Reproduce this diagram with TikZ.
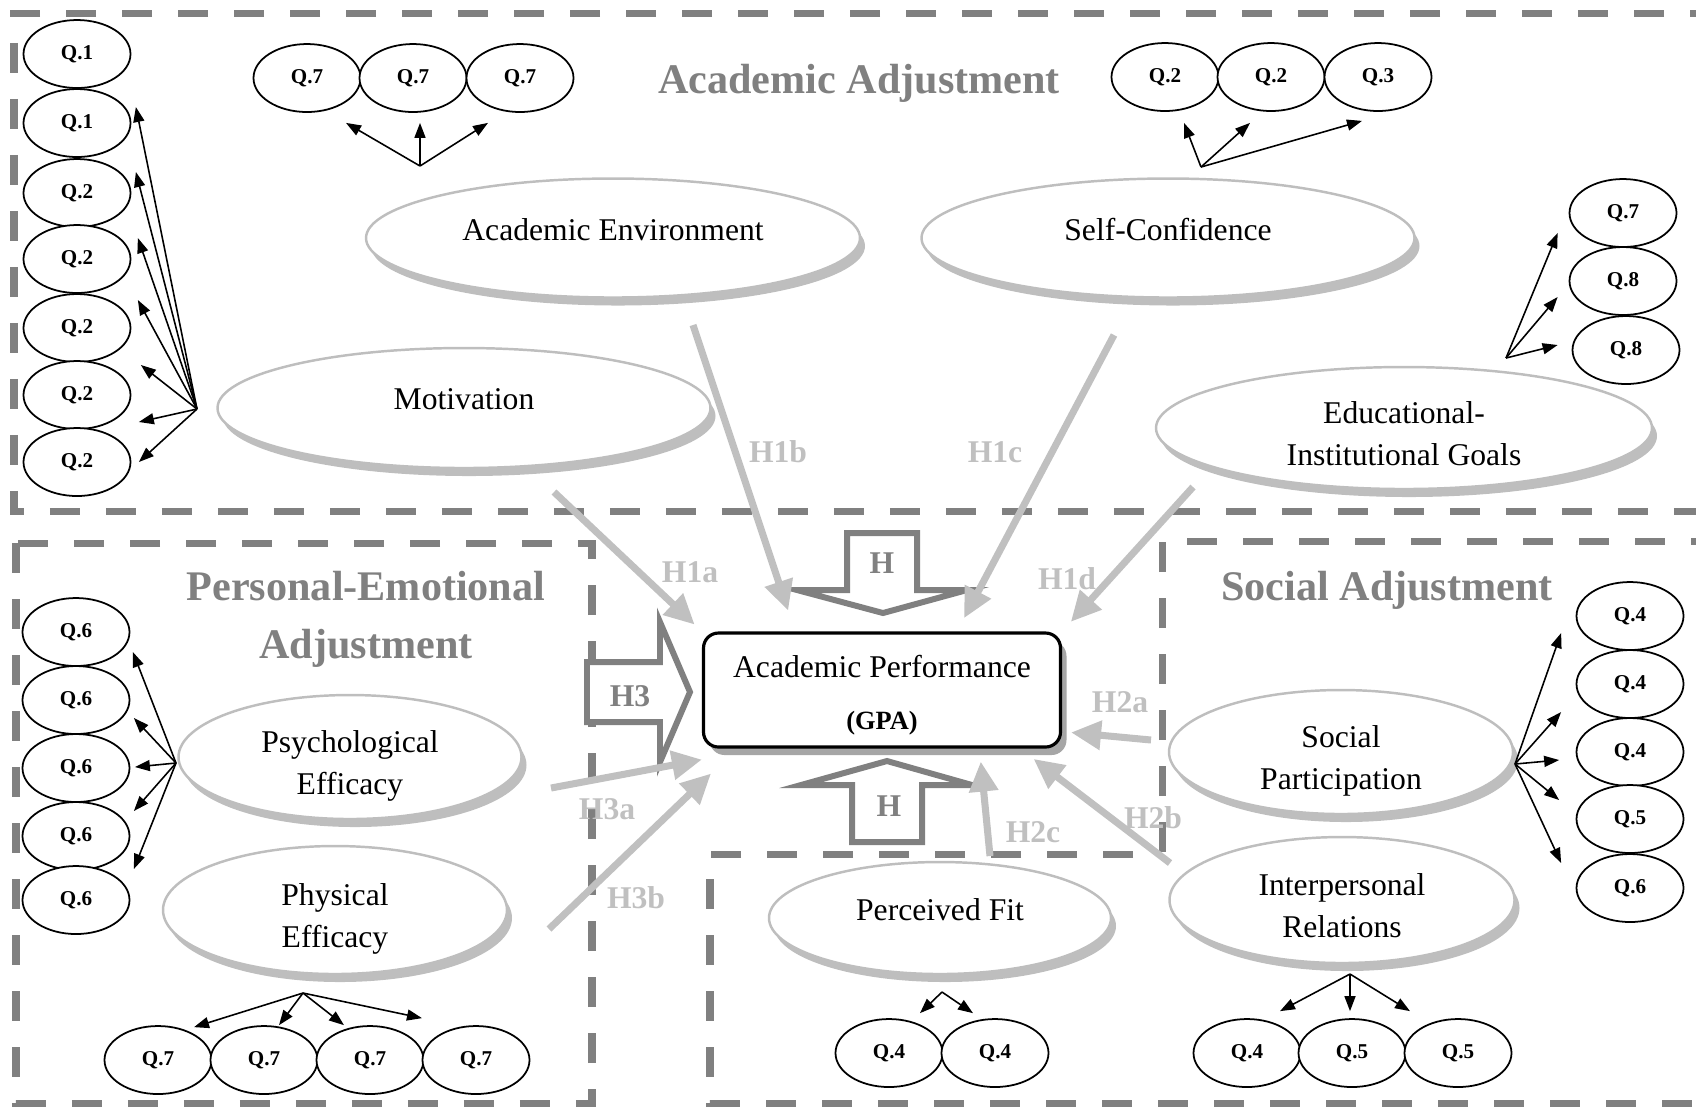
\documentclass[tikz,border=0pt]{standalone}
\usepackage{fontspec}
\setmainfont{Liberation Serif}
\usepackage{tikz}
\usetikzlibrary{shapes.geometric, arrows.meta, shadows}
\definecolor{boxgray}{RGB}{128,128,128}
\definecolor{hypgray}{RGB}{192,192,192}
\definecolor{latgray}{RGB}{190,190,190}
\tikzset{
  qnode/.style={ellipse, draw, fill=white, line width=0.5pt, minimum width=10.7mm, minimum height=6.8mm, inner sep=0pt, font=\bfseries\fontsize{6}{7}\selectfont},
  latent/.style={ellipse, draw=latgray, fill=white, line width=0.7pt, inner sep=0pt, align=center, font=\fontsize{9}{12}\selectfont, drop shadow={shadow xshift=0.5mm, shadow yshift=-0.8mm, fill=latgray, opacity=1}},
  oneline/.style={text depth=1.7mm},
  twoline/.style={text height=7.5mm, text depth=0mm},
  gpabox/.style={rectangle, rounded corners=1.5mm, draw, fill=white, line width=0.9pt, minimum width=35.7mm, minimum height=11.4mm, align=center, font=\fontsize{9}{11}\selectfont, text height=7.8mm, text depth=0mm, drop shadow={shadow xshift=0.6mm, shadow yshift=-0.8mm, fill=black!35, opacity=1}},
  region/.style={draw=boxgray, line width=2pt, dash pattern=on 3mm off 2.6mm},
  title/.style={text=boxgray, font=\bfseries\fontsize{12}{16.5}\selectfont, align=center},
  hlabel/.style={text=hypgray, font=\bfseries\fontsize{9}{11}\selectfont},
  hbig/.style={text=boxgray, font=\bfseries\fontsize{9}{11}\selectfont},
  blockarrow/.style={draw=boxgray, fill=white, line width=1.7pt, line join=miter}
}
\tikzstyle{qarrow} = [line width=0.45pt, -{Triangle[length=1.5mm,width=1.1mm]}]
\tikzstyle{hyparrow} = [draw=hypgray, line width=2pt, -{Triangle[length=3mm,width=2.8mm]}]

\begin{document}
\begin{tikzpicture}[x=0.1mm, y=-0.1mm]
\useasboundingbox (0,0) rectangle (1696,1106);
% 三个区域的虚线框, 右边在图外
\draw[region] (1720,13) -- (14,13) -- (14,511) -- (1720,511);
\draw[region] (16,543) rectangle (592,1103);
\draw[region] (1133,854) -- (710,854) -- (710,1103) -- (1720,1103);
\draw[region] (1162,852) -- (1162,541) -- (1720,541);

% 区域标题
\node[title] (aat) at (859,83) {Academic Adjustment};
\node[title] (pet) at (366,619) {Personal-Emotional\\Adjustment};
\node[title] (sat) at (1387,590) {Social Adjustment};

% 潜变量椭圆
\node[latent, oneline, minimum width=49.4mm, minimum height=11.9mm] (ae) at (613,238) {Academic Environment};
\node[latent, oneline, minimum width=49.3mm, minimum height=11.9mm] (sc) at (1168,238) {Self-Confidence};
\node[latent, oneline, minimum width=49.3mm, minimum height=12mm] (mo) at (464,408) {Motivation};
\node[latent, twoline, minimum width=49.6mm, minimum height=12.2mm] (eg) at (1404,428) {Educational-\\Institutional Goals};
\node[latent, twoline, minimum width=34.3mm, minimum height=12.4mm] (pe) at (350,757) {Psychological\\Efficacy};
\node[latent, twoline, minimum width=34.4mm, minimum height=12.8mm] (pf) at (335,910) {Physical\\Efficacy};
\node[latent, oneline, minimum width=34.2mm, minimum height=11.2mm] (fit) at (940,918) {Perceived Fit};
\node[latent, twoline, minimum width=34.4mm, minimum height=12.4mm] (sp) at (1341,752) {Social\\Participation};
\node[latent, twoline, minimum width=34.5mm, minimum height=12.6mm] (ir) at (1342,900) {Interpersonal\\Relations};

% 中心结点
\node[gpabox] (gpa) at (882,690) {Academic Performance\\[1.3mm]{\bfseries\fontsize{7.5}{9}\selectfont (GPA)}};

% 三个空心大箭头
\draw[blockarrow] (847,533) -- (917,533) -- (917,590) -- (967,590) -- (883,613) -- (797,590) -- (847,590) -- cycle;
\node[hbig] (hdn) at (882,563) {H};
\draw[blockarrow] (852,842) -- (922,842) -- (922,785) -- (972,785) -- (887,761) -- (801,785) -- (852,785) -- cycle;
\node[hbig] (hup) at (889,806) {H};
\draw[blockarrow] (587,662) -- (660,662) -- (660,622) -- (690,692) -- (660,762) -- (660,722) -- (587,722) -- cycle;
\node[hbig] (hri) at (630,696) {H3};

% 假设路径, 起点是空白处的坐标
\coordinate (h1a-s) at (554,492);
\coordinate (h1b-s) at (693,325);
\coordinate (h1c-s) at (1114,335);
\coordinate (h1d-s) at (1193,487);
\coordinate (h2a-s) at (1151,740);
\coordinate (h2b-s) at (1170,863);
\coordinate (h2c-s) at (990,856);
\coordinate (h3a-s) at (551,788);
\coordinate (h3b-s) at (549,929);
\draw[hyparrow, shorten >=1mm] (h1a-s) -- (gpa.north west);
\draw[hyparrow, shorten >=2.2mm] (h1b-s) -- (gpa.146);
\draw[hyparrow, shorten >=1.5mm] (h1c-s) -- (gpa.38);
\draw[hyparrow, shorten >=1.3mm] (h1d-s) -- (gpa.north east);
\draw[hyparrow, shorten >=0.9mm] (h2a-s) -- (gpa.-13);
\draw[hyparrow, shorten >=1.7mm] (h2b-s) -- (gpa.-23.5);
\draw[hyparrow, shorten >=1.3mm] (h2c-s) -- (gpa.-31);
\draw[hyparrow] (h3a-s) -- ([yshift=-1.1mm]gpa.south west);
\draw[hyparrow, shorten >=3.6mm] (h3b-s) -- (gpa.-158);
\node[hlabel] (l1a) at (690,572) {H1a};
\node[hlabel] (l1b) at (778,452) {H1b};
\node[hlabel] (l1c) at (995,452) {H1c};
\node[hlabel] (l1d) at (1067,579) {H1d};
\node[hlabel] (l2a) at (1120,702) {H2a};
\node[hlabel] (l2b) at (1153,818) {H2b};
\node[hlabel] (l2c) at (1033,832) {H2c};
\node[hlabel] (l3a) at (607,809) {H3a};
\node[hlabel] (l3b) at (636,898) {H3b};

% 左列题项 (Motivation)
\node[qnode] (qa1) at (77,54) {Q.1};
\node[qnode] (qa2) at (77,123) {Q.1};
\node[qnode] (qa3) at (77,193) {Q.2};
\node[qnode] (qa4) at (77,259) {Q.2};
\node[qnode] (qa5) at (77,328) {Q.2};
\node[qnode] (qa6) at (77,395) {Q.2};
\node[qnode] (qa7) at (77,462) {Q.2};
\coordinate (qao) at (197,409);
\draw[qarrow] (qao) -- ([shift={(4.5,-16)}]qa2.east);
\draw[qarrow] (qao) -- ([shift={(4.5,-21)}]qa3.east);
\draw[qarrow] (qao) -- ([shift={(6.5,-21)}]qa4.east);
\draw[qarrow] (qao) -- ([shift={(6.5,-28)}]qa5.east);
\draw[qarrow] (qao) -- ([shift={(9.5,-30)}]qa6.east);
\draw[qarrow] (qao) -- ([shift={(7.5,27)}]qa6.east);
\draw[qarrow] (qao) -- ([shift={(7.5,0)}]qa7.east);

% Academic Environment 的题项
\node[qnode] (q7a) at (307,78) {Q.7};
\node[qnode] (q7b) at (413,78) {Q.7};
\node[qnode] (q7c) at (520,78) {Q.7};
\coordinate (q7o) at (420,166);
\draw[qarrow] (q7o) -- ([shift={(39,10)}]q7a.south);
\draw[qarrow] (q7o) -- ([shift={(7,10)}]q7b.south);
\draw[qarrow] (q7o) -- ([shift={(-32,10)}]q7c.south);

% Self-Confidence 的题项
\node[qnode] (sca) at (1165,77) {Q.2};
\node[qnode] (scb) at (1271,77) {Q.2};
\node[qnode] (scc) at (1378,77) {Q.3};
\coordinate (sco) at (1201,167);
\draw[qarrow] (sco) -- ([shift={(19,11)}]sca.south);
\draw[qarrow] (sco) -- ([shift={(-21,11)}]scb.south);
\draw[qarrow] (sco) -- ([shift={(-16,9)}]scc.south);

% Educational-Institutional Goals 的题项
\node[qnode] (ega) at (1623,213) {Q.7};
\node[qnode] (egb) at (1623,281) {Q.8};
\node[qnode] (egc) at (1626,350) {Q.8};
\coordinate (ego) at (1506,358);
\draw[qarrow] (ego) -- ([shift={(-11,20)}]ega.west);
\draw[qarrow] (ego) -- ([shift={(-11,16)}]egb.west);
\draw[qarrow] (ego) -- ([shift={(-14,-5)}]egc.west);

% Psychological Efficacy 的题项
\node[qnode] (pa1) at (76,632) {Q.6};
\node[qnode] (pa2) at (76,700) {Q.6};
\node[qnode] (pa3) at (76,768) {Q.6};
\node[qnode] (pa4) at (76,836) {Q.6};
\node[qnode] (pa5) at (76,900) {Q.6};
\coordinate (pao) at (176,763);
\draw[qarrow] (pao) -- ([shift={(2.5,20)}]pa1.east);
\draw[qarrow] (pao) -- ([shift={(3.5,18)}]pa2.east);
\draw[qarrow] (pao) -- ([shift={(4.5,-1)}]pa3.east);
\draw[qarrow] (pao) -- ([shift={(3.5,-25)}]pa4.east);
\draw[qarrow] (pao) -- ([shift={(3.5,-31)}]pa5.east);

% Physical Efficacy 的题项
\node[qnode] (pb1) at (158,1060) {Q.7};
\node[qnode] (pb2) at (264,1060) {Q.7};
\node[qnode] (pb3) at (370,1060) {Q.7};
\node[qnode] (pb4) at (476,1060) {Q.7};
\coordinate (pbo) at (303,993);
\draw[qarrow] (pbo) -- ([shift={(36,2)}]pb1.north);
\draw[qarrow] (pbo) -- ([shift={(15,0)}]pb2.north);
\draw[qarrow] (pbo) -- ([shift={(-26,0)}]pb3.north);
\draw[qarrow] (pbo) -- ([shift={(-54,-7)}]pb4.north);

% Social Participation 的题项
\node[qnode] (sr1) at (1630,616) {Q.4};
\node[qnode] (sr2) at (1630,684) {Q.4};
\node[qnode] (sr3) at (1630,752) {Q.4};
\node[qnode] (sr4) at (1630,819) {Q.5};
\node[qnode] (sr5) at (1630,888) {Q.6};
\coordinate (sro) at (1515,764);
\draw[qarrow] (sro) -- ([shift={(-14.5,17)}]sr1.west);
\draw[qarrow] (sro) -- ([shift={(-14.5,28)}]sr2.west);
\draw[qarrow] (sro) -- ([shift={(-16.5,8)}]sr3.west);
\draw[qarrow] (sro) -- ([shift={(-16.5,-19)}]sr4.west);
\draw[qarrow] (sro) -- ([shift={(-14.5,-25)}]sr5.west);

% Perceived Fit 的题项
\node[qnode] (pfa) at (889,1053) {Q.4};
\node[qnode] (pfb) at (995,1053) {Q.4};
\coordinate (pfo) at (942,992);
\draw[qarrow] (pfo) -- ([shift={(31,-5)}]pfa.north);
\draw[qarrow] (pfo) -- ([shift={(-22,-5)}]pfb.north);

% Interpersonal Relations 的题项
\node[qnode] (ira) at (1247,1053) {Q.4};
\node[qnode] (irb) at (1352,1053) {Q.5};
\node[qnode] (irc) at (1458,1053) {Q.5};
\coordinate (iro) at (1350,974);
\draw[qarrow] (iro) -- ([shift={(33,-7)}]ira.north);
\draw[qarrow] (iro) -- ([shift={(-2,-7)}]irb.north);
\draw[qarrow] (iro) -- ([shift={(-48,-7)}]irc.north);
\end{tikzpicture}
\end{document}
